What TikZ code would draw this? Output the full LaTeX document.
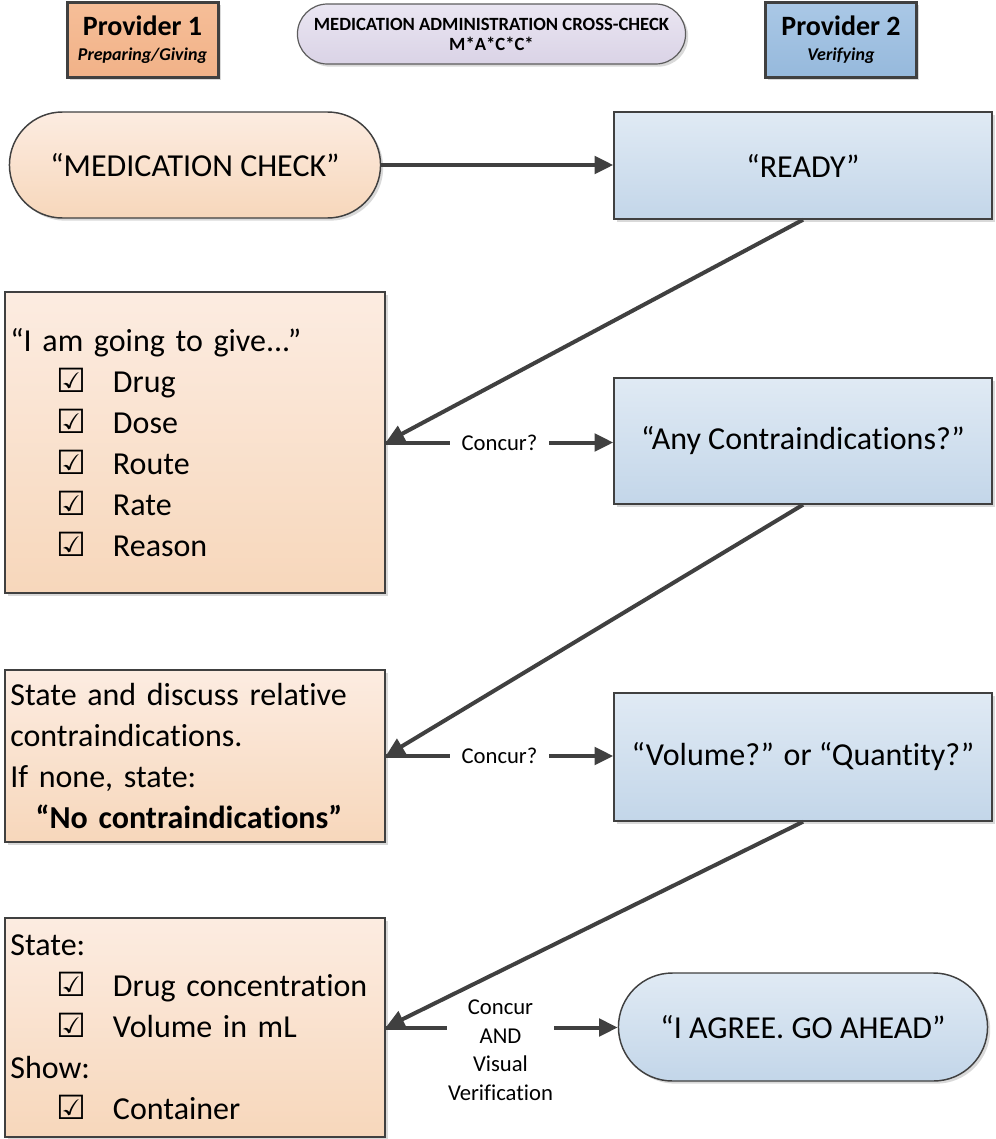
\documentclass[tikz,border=0pt]{standalone}
\usepackage{fontspec}
\setmainfont{Carlito}[Ligatures={NoCommon}]
\newfontfamily\dejavu{DejaVu Sans}
\usetikzlibrary{shapes.misc,shadows,arrows.meta,calc}
\definecolor{orTop}{RGB}{252,236,225}
\definecolor{orBot}{RGB}{247,215,187}
\definecolor{blTop}{RGB}{224,234,244}
\definecolor{blBot}{RGB}{195,214,233}
\definecolor{edge}{RGB}{64,64,64}
\definecolor{pOneTop}{RGB}{246,190,152}
\definecolor{pOneBot}{RGB}{241,178,136}
\definecolor{pTwoTop}{RGB}{170,200,230}
\definecolor{pTwoBot}{RGB}{150,185,220}
\definecolor{lavTop}{RGB}{234,230,242}
\definecolor{lavBot}{RGB}{218,211,230}
\newcommand{\chk}{\makebox[42pt][l]{\fontsize{25}{25}\selectfont\dejavu\bfseries ☑}}
\newcommand{\ind}{\hspace*{35pt}}
\begin{document}
\begin{tikzpicture}[x=0.75pt,y=-0.75pt,
  shad/.style={drop shadow={shadow xshift=2pt,shadow yshift=-2pt,fill=black!15,opacity=1}},
  bigtext/.style={font=\fontsize{24}{30.75}\selectfont},
  orbox/.style={draw=edge,line width=1.1pt,top color=orTop,bottom color=orBot,shad,
    minimum width=285pt,text width=277pt,inner xsep=4pt,align=left,bigtext},
  blbox/.style={draw=edge,line width=1.1pt,top color=blTop,bottom color=blBot,shad,
    minimum width=283.5pt,align=center,bigtext},
  pill/.style={rounded rectangle,draw=edge,line width=1.1pt,shad,align=center,bigtext},
  header/.style={draw=edge,line width=2.25pt,shad,minimum width=113.25pt,minimum height=56.25pt,align=center,inner sep=0pt},
  conn/.style={draw=edge,line width=3pt,-{Triangle[length=14pt,width=13pt]}},
  concur/.style={fill=white,font=\fontsize{17}{21.4}\selectfont,inner xsep=9pt,inner ysep=2pt,align=center}
]
\useasboundingbox (0,0) rectangle (996,1139);

% headers
\node[header,top color=pOneTop,bottom color=pOneBot] (p1) at (142.5,39.5)
  {{\fontsize{21}{22}\selectfont\bfseries Provider 1}\\[7pt]{\fontsize{13.5}{16}\selectfont\bfseries\itshape Preparing/Giving}};
\node[rounded rectangle,draw=edge!85,line width=0.9pt,top color=lavTop,bottom color=lavBot,shad,
  minimum width=297.75pt,minimum height=45pt,align=center,font=\fontsize{14}{15}\selectfont\bfseries] (title) at (491.5,34)
  {MEDICATION ADMINISTRATION CROSS-CHECK\\M*A*C*C*};
\node[header,top color=pTwoTop,bottom color=pTwoBot] (p2) at (841,39.5)
  {{\fontsize{21}{22}\selectfont\bfseries Provider 2}\\[7pt]{\fontsize{13.5}{16}\selectfont\bfseries\itshape Verifying}};

% provider 1 column
\node[pill,top color=orTop,bottom color=orBot,minimum width=285pt,minimum height=79.5pt] (med) at (195,165) {“MEDICATION CHECK”};
\node[orbox,minimum height=225.75pt] (give) at (195,442.5)
  {“I am going to give...”\\
   \ind\chk Drug\\
   \ind\chk Dose\\
   \ind\chk Route\\
   \ind\chk Rate\\
   \ind\chk Reason};
\node[orbox,minimum height=129pt] (disc) at (195,756)
  {State and discuss relative\\
   contraindications.\\
   If none, state:\\
   \hspace*{19pt}\textbf{“No contraindications”}};
\node[orbox,minimum height=164.25pt] (state) at (195,1027.5)
  {State:\\
   \ind\chk Drug concentration\\
   \ind\chk Volume in mL\\
   Show:\\
   \ind\chk Container};

% provider 2 column
\node[blbox,minimum height=80.25pt] (ready) at (803,165.5) {“READY”};
\node[blbox,minimum height=94.5pt] (contra) at (803,441) {“Any Contraindications?”};
\node[blbox,minimum height=96pt] (vol) at (803,757) {“Volume?” or “Quantity?”};
\node[pill,top color=blTop,bottom color=blBot,minimum width=283.5pt,minimum height=81pt] (agree) at (803,1027) {“I AGREE. GO AHEAD”};

% connectors
\draw[conn] (med.east) -- (med.east -| ready.west);
\draw[conn] (give.east) -- (give.east -| contra.west) node[midway,concur] (c1) {Concur?};
\draw[conn] (disc.east) -- (disc.east -| vol.west) node[midway,concur] (c2) {Concur?};
\draw[conn] (state.east) -- (state.east -| agree.west);
\node[concur,inner xsep=1pt] (c3) at (500.5,1050) {Concur\\AND\\Visual\\Verification};
\draw[conn] (ready.south) -- (give.east);
\draw[conn] (contra.south) -- (disc.east);
\draw[conn] (vol.south) -- (state.east);
\end{tikzpicture}
\end{document}
